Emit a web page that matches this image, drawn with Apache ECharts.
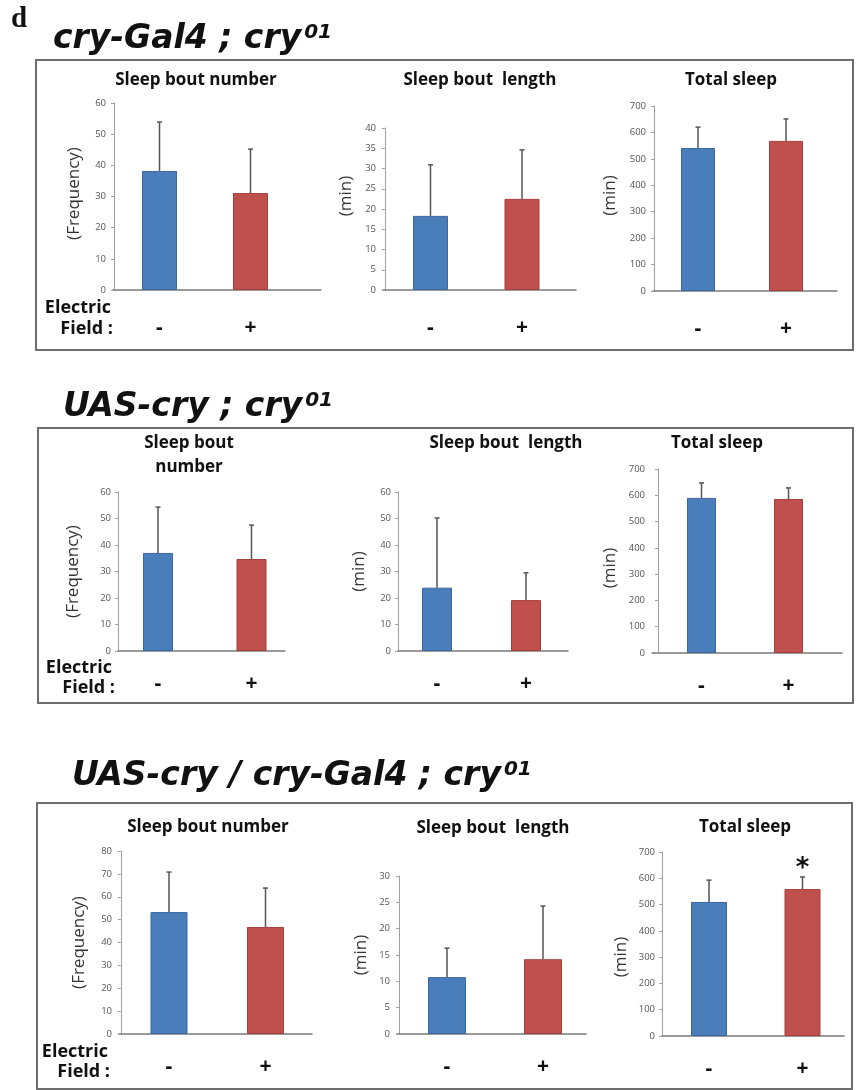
<!DOCTYPE html>
<html><head><meta charset="utf-8">
<script src="https://cdn.jsdelivr.net/npm/echarts@6/dist/echarts.min.js"></script>
<style>html,body{margin:0;padding:0;background:#fff}#c{width:857px;height:1090px}</style>
</head><body><div id="c"></div>
<script>
// ---------- DATA ----------
const categories = ['-', '+'];               // Electric field off / on
const genotypes = ['cry-Gal4 ; cry', 'UAS-cry ; cry', 'UAS-cry / cry-Gal4 ; cry'];
const genotypeSup = '01';
const measureTitles = ['Sleep bout number', 'Sleep bout  length', 'Total sleep'];
const measureTitlesRow2 = ['Sleep bout\nnumber', 'Sleep bout  length', 'Total sleep'];
const yAxisNames = ['(Frequency)', '(min)', '(min)'];

// rows = genotypes, pairs = [-, +]
const meanBoutNumber = [[38.2, 31.1], [37.0, 34.7], [53.3, 46.8]];
const sdBoutNumber   = [[15.7, 14.1], [17.3, 12.8], [17.5, 17.0]];
const meanBoutLength = [[18.3, 22.5], [23.9, 19.2], [10.8, 14.2]];
const sdBoutLength   = [[12.6, 12.1], [26.3, 10.3], [5.5, 10.1]];
const meanTotalSleep = [[541, 568], [590, 586], [510, 559]];
const sdTotalSleep   = [[79, 83], [57, 42], [83, 46]];
const sigTotalSleep  = [['', ''], ['', ''], ['', '*']];

// y-axis tick ranges
const yMaxBoutNumber  = [60, 60, 80];
const yStepBoutNumber = [10, 10, 10];
const yMaxBoutLength  = [40, 60, 30];
const yStepBoutLength = [5, 10, 5];
const yMaxTotalSleep  = [700, 700, 700];
const yStepTotalSleep = [100, 100, 100];

// ---------- LAYOUT (pixels) ----------
// L: y-axis x, R: baseline end, T: top tick y, B: zero y, c1/c2: bar centres, bw: bar width, g: name gap, sh: name shift (+ = up)
const layout = [
  [ {L:113,R:321,T:103,B:290,c1:159.5,c2:250.5,bw:35,g:30,sh:3},
    {L:383,R:576,T:128,B:290,c1:430.5,c2:522,bw:35,g:28,sh:13},
    {L:653,R:837,T:106,B:291,c1:698,c2:786,bw:34,g:34,sh:3} ],
  [ {L:118,R:285,T:492,B:651,c1:158,c2:251.5,bw:30,g:36,sh:0},
    {L:398,R:568,T:492,B:651,c1:437,c2:526,bw:30,g:30,sh:0},
    {L:652,R:842,T:469,B:653,c1:701.5,c2:788.5,bw:29,g:33,sh:-7} ],
  [ {L:119,R:312,T:851,B:1034,c1:169,c2:265.5,bw:37,g:31,sh:0},
    {L:397,R:586,T:876,B:1034,c1:447,c2:543,bw:38,g:27,sh:0},
    {L:662,R:844,T:852,B:1036,c1:709,c2:802.5,bw:36,g:32,sh:-13} ]
];
const catLabelMargin = [28, 23, 23];
const boxes = [[36,60,817,290],[38,428,815,275],[37,803,815,286]];
const titlePos = [[53,23],[63,391],[72,760]];
const chartTitlePos = [
  [[196,80],[480,80],[731,80]],
  [[189,455],[506,443],[717,443]],
  [[208,827],[493,828],[745,827]]
];
const electricPos = [[111,308,113,329],[112,668,115,688],[108,1052,110,1072]];

const W = 857, H = 1090;
const fillCols = ['#4a7ebb', '#c0504d'];
const borderCols = ['#3b67a0', '#a53f3c'];
const FONT = '"Open Sans", "Noto Sans", sans-serif';

const chart = echarts.init(document.getElementById('c'), null, {renderer: 'canvas', width: W, height: H});

const grids = [], xAxes = [], yAxes = [], series = [], graphics = [];

const measureData = [
  {mean: meanBoutNumber, sd: sdBoutNumber, max: yMaxBoutNumber, step: yStepBoutNumber, sig: null},
  {mean: meanBoutLength, sd: sdBoutLength, max: yMaxBoutLength, step: yStepBoutLength, sig: null},
  {mean: meanTotalSleep, sd: sdTotalSleep, max: yMaxTotalSleep, step: yStepTotalSleep, sig: sigTotalSleep}
];

let idx = 0;
for (let r = 0; r < 3; r++) {
  for (let c = 0; c < 3; c++) {
    const lay = layout[r][c];
    const md = measureData[c];
    const means = md.mean[r], sds = md.sd[r];
    const sig = md.sig ? md.sig[r] : ['', ''];
    const u = lay.c2 - lay.c1;
    const xmin = 0.5 - (lay.c1 - lay.L) / u;
    const xmax = xmin + (lay.R - lay.L) / u;
    grids.push({left: lay.L, top: lay.T, width: lay.R - lay.L, height: lay.B - lay.T, containLabel: false});
    xAxes.push({
      type: 'value', gridIndex: idx, min: xmin, max: xmax,
      axisLine: {show: true, onZero: false, lineStyle: {color: '#7a7a7a', width: 1.5}},
      axisTick: {show: false}, splitLine: {show: false},
      axisLabel: {
        customValues: categories.map((_, k) => k + 0.5),
        formatter: v => categories[Math.round(v - 0.5)],
        fontSize: 21, fontWeight: 'bold', color: '#111', fontFamily: FONT,
        margin: catLabelMargin[r]
      }
    });
    const sh = lay.sh;
    yAxes.push({
      type: 'value', gridIndex: idx, min: 0, max: md.max[r], interval: md.step[r],
      axisLine: {show: true, lineStyle: {color: '#a0a0a0', width: 1}},
      axisTick: {show: true, length: 3, lineStyle: {color: '#a0a0a0'}},
      splitLine: {show: false},
      axisLabel: {fontSize: 9.5, color: '#555', fontFamily: FONT, margin: 7},
      name: yAxisNames[c], nameLocation: 'middle', nameGap: lay.g, nameRotate: 90,
      nameTextStyle: {fontSize: 17, color: '#333', fontFamily: FONT,
        padding: [0, sh < 0 ? -2 * sh : 0, 0, sh > 0 ? 2 * sh : 0]}
    });
    series.push({
      type: 'bar', xAxisIndex: idx, yAxisIndex: idx, barWidth: lay.bw,
      data: means.map((m, k) => ({value: [k + 0.5, m], itemStyle: {color: fillCols[k], borderColor: borderCols[k], borderWidth: 1}})),
      silent: true, animation: false
    });
    series.push({
      type: 'custom', xAxisIndex: idx, yAxisIndex: idx, z: 5, animation: false, silent: true,
      data: means.map((m, k) => [k + 0.5, m, m + sds[k]]),
      encode: {x: 0, y: [1, 2]},
      renderItem: (function (sigArr) {
        return function (params, api) {
          const x = api.value(0);
          const p0 = api.coord([x, api.value(1)]);
          const p1 = api.coord([x, api.value(2)]);
          const st = {stroke: '#555', lineWidth: 1.5};
          const children = [
            {type: 'line', shape: {x1: p0[0], y1: p0[1], x2: p1[0], y2: p1[1]}, style: st},
            {type: 'line', shape: {x1: p1[0] - 2.5, y1: p1[1], x2: p1[0] + 2.5, y2: p1[1]}, style: st}
          ];
          const s = sigArr[params.dataIndex];
          if (s) {
            children.push({type: 'text', style: {text: s, x: p1[0], y: p1[1] + 5, align: 'center', verticalAlign: 'bottom',
              font: 'bold 26px "DejaVu Sans", sans-serif', fill: '#111'}});
          }
          return {type: 'group', children};
        };
      })(sig)
    });
    // chart title
    const tp = chartTitlePos[r][c];
    const ttext = r === 1 ? measureTitlesRow2[c] : measureTitles[c];
    graphics.push({type: 'text', x: tp[0], y: tp[1], silent: true,
      style: {text: ttext, align: 'center', verticalAlign: 'middle', lineHeight: 24,
        font: 'bold 17px ' + FONT, fill: '#111'}});
    idx++;
  }
}

for (let r = 0; r < 3; r++) {
  const b = boxes[r];
  graphics.push({type: 'rect', silent: true, shape: {x: b[0], y: b[1], width: b[2], height: b[3]},
    style: {fill: 'none', stroke: '#6e6e6e', lineWidth: 2}});
  const tp = titlePos[r];
  graphics.push({type: 'text', x: tp[0], y: tp[1], silent: true,
    style: {text: '{m|' + genotypes[r] + '}{s|' + genotypeSup + '}',
      rich: {
        m: {font: 'italic bold 33px "DejaVu Sans", sans-serif', fill: '#111', verticalAlign: 'bottom'},
        s: {font: 'italic bold 20px "DejaVu Sans", sans-serif', fill: '#111', verticalAlign: 'top', padding: [0, 0, 0, 3]}
      }}});
  const ep = electricPos[r];
  graphics.push({type: 'text', x: ep[0], y: ep[1], silent: true,
    style: {text: 'Electric', align: 'right', verticalAlign: 'middle', font: 'bold 18px ' + FONT, fill: '#111'}});
  graphics.push({type: 'text', x: ep[2], y: ep[3], silent: true,
    style: {text: 'Field :', align: 'right', verticalAlign: 'middle', font: 'bold 18px ' + FONT, fill: '#111'}});
}
graphics.push({type: 'text', x: 11, y: 5, silent: true,
  style: {text: 'd', font: 'bold 29px "Liberation Serif", serif', fill: '#111'}});

chart.setOption({
  backgroundColor: '#fff',
  animation: false,
  grid: grids, xAxis: xAxes, yAxis: yAxes, series: series,
  graphic: graphics
});
</script></body></html>
